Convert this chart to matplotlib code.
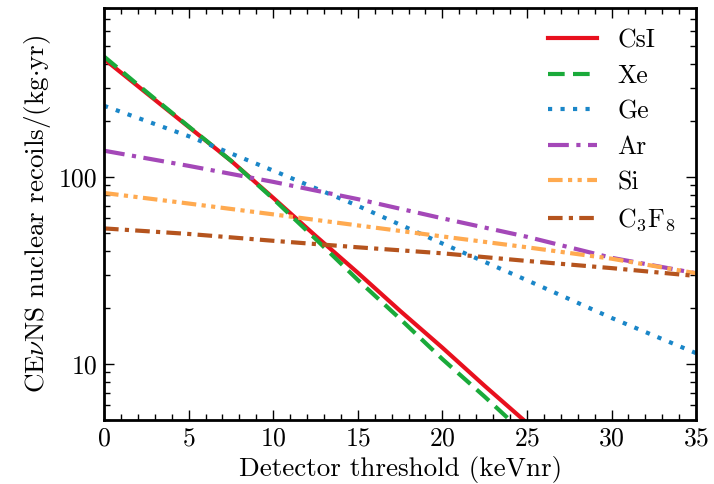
import matplotlib
matplotlib.use("Agg")
import matplotlib.pyplot as plt
import numpy as np

plt.rcParams['font.family'] = 'serif'
plt.rcParams['font.serif'] = ['cmr10', 'DejaVu Serif']
plt.rcParams['mathtext.fontset'] = 'cm'
plt.rcParams['axes.formatter.use_mathtext'] = True

# threshold grid (keVnr)
thr = [0, 2.5, 5, 7.5, 10, 12.5, 15, 17.5, 20, 22.5, 25]
csi = [427, 281, 185, 122, 77.2, 48.4, 30.7, 19.2, 12.2, 7.62, 4.83]
xe = [440, 285, 186, 122, 76.3, 46.6, 28.1, 17.4, 10.6, 6.67, 4.12]

thr2 = [0, 5, 10, 15, 20, 25, 30, 35]
ge = [240, 165, 108, 70, 44, 28, 17.6, 11.4]
ar = [138, 114.5, 94, 76, 60, 47.8, 36.9, 30.5]
si = [82, 72, 63, 55, 48, 42, 36.5, 30.5]
c3f8 = [53, 49.5, 45.5, 42, 39, 35.5, 32.5, 29.5]

fig = plt.figure(figsize=(7.14, 4.84), dpi=100)
ax = fig.add_axes([0.1457, 0.132, 0.8293, 0.8515])

lw = 3
ax.plot(thr, csi, color='#e8101e', lw=lw, ls='-', label='CsI')
ax.plot(thr, xe, color='#1aaa3a', lw=lw, ls=(0, (4, 2)), label='Xe')
ax.plot(thr2, ge, color='#1a86c8', lw=lw, ls=(0, (1, 2)), label='Ge')
ax.plot(thr2, ar, color='#a448b8', lw=lw, ls=(0, (5, 1.8, 1, 1.8)), label='Ar')
ax.plot(thr2, si, color='#ffaa50', lw=lw, ls=(0, (3.5, 1.3, 1, 1.3, 1, 1.3)), label='Si')
ax.plot(thr2, c3f8, color='#b5541e', lw=lw, ls=(0, (3.5, 1.5, 1, 1.5)), label='C$_3$F$_8$')

ax.set_yscale('log')
ax.set_xlim(0, 35)
ax.set_ylim(5, 800)
ax.set_yticks([10, 100])
ax.set_yticklabels(['10', '100'])
ax.set_xticks(range(0, 36, 5))
ax.xaxis.set_minor_locator(matplotlib.ticker.MultipleLocator(1))
ax.yaxis.set_minor_formatter(matplotlib.ticker.NullFormatter())

ax.tick_params(which='both', direction='in', top=True, right=True, labelsize=18.5)
ax.tick_params(which='major', length=7, width=1, pad=5)
ax.tick_params(which='minor', length=4, width=1)
for s in ax.spines.values():
    s.set_linewidth(2)

ax.set_xlabel('Detector threshold (keVnr)', fontsize=19.5, labelpad=4)
ax.set_ylabel(r'CE$\nu$NS nuclear recoils/(kg$\cdot$yr)', fontsize=19.5, labelpad=4)

ax.legend(loc='upper right', frameon=False, fontsize=18.5, handlelength=1.9,
          labelspacing=0.46, borderaxespad=0.4)

fig.savefig('out.png', dpi=100)
